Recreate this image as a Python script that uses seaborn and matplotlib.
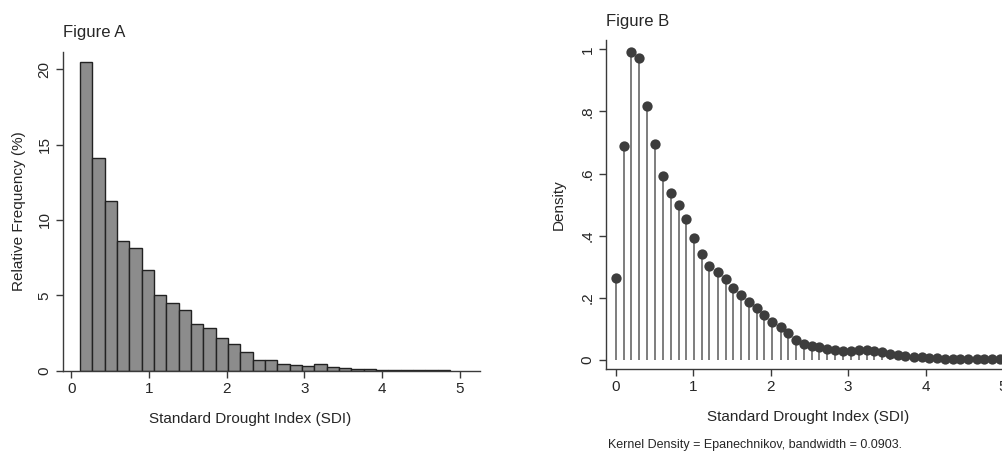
import matplotlib
matplotlib.use("Agg")
import matplotlib.pyplot as plt
import seaborn as sns
import pandas as pd
import numpy as np

# Figure A: relative frequency (%) per SDI bin
bin_start = 0.112
bin_width = 0.1587
freq_pct = [20.49, 14.08, 11.27, 8.60, 8.15, 6.67, 5.02, 4.51, 4.00, 3.09,
            2.85, 2.19, 1.77, 1.26, 0.71, 0.73, 0.42, 0.40, 0.33, 0.42,
            0.27, 0.20, 0.13, 0.09, 0.05, 0.03, 0.02, 0.02, 0.03, 0.02]

# Figure B: kernel density evaluated on a grid
sdi_grid = [0.00, 0.10, 0.20, 0.30, 0.40, 0.51, 0.61, 0.71, 0.81, 0.91,
            1.01, 1.11, 1.21, 1.32, 1.42, 1.52, 1.62, 1.72, 1.82, 1.92,
            2.02, 2.13, 2.23, 2.33, 2.43, 2.53, 2.63, 2.73, 2.83, 2.93,
            3.04, 3.14, 3.24, 3.34, 3.44, 3.54, 3.64, 3.74, 3.85, 3.95,
            4.05, 4.15, 4.25, 4.35, 4.45, 4.55, 4.66, 4.76, 4.86, 4.96]
density = [0.265, 0.689, 0.990, 0.973, 0.817, 0.696, 0.592, 0.536, 0.499, 0.453,
           0.392, 0.340, 0.304, 0.282, 0.259, 0.232, 0.209, 0.188, 0.167, 0.145,
           0.123, 0.107, 0.087, 0.065, 0.050, 0.046, 0.041, 0.034, 0.032, 0.030,
           0.030, 0.031, 0.031, 0.029, 0.025, 0.019, 0.017, 0.014, 0.011, 0.008,
           0.006, 0.005, 0.004, 0.003, 0.003, 0.002, 0.002, 0.002, 0.002, 0.002]

x_ticks = [0, 1, 2, 3, 4, 5]
a_yticks = [0, 5, 10, 15, 20]
b_yticks = [0, 0.2, 0.4, 0.6, 0.8, 1.0]
b_yticklabels = ["0", ".2", ".4", ".6", ".8", "1"]

sns.set_style("ticks")
plt.rcParams['font.family'] = ['Liberation Sans', 'DejaVu Sans']

fig = plt.figure(figsize=(10.03, 4.53), dpi=100)
ax_a = fig.add_axes([0.0625, 0.1817, 0.416, 0.704])
ax_b = fig.add_axes([0.6039, 0.1848, 0.403, 0.727])

spine_col = "#3a3a3a"

# ---- Figure A: histogram
n_bins = len(freq_pct)
edges = bin_start + bin_width * np.arange(n_bins + 1)
hist_df = pd.DataFrame({
    "sdi": (edges[:-1] + edges[1:]) / 2,
    "pct": freq_pct,
})
sns.histplot(data=hist_df, x="sdi", weights="pct", bins=list(edges), ax=ax_a,
             color="#8c8c8c", edgecolor="#222222", linewidth=1.0, alpha=1.0)
ax_a.set_xlim(-0.11, 5.26)
ax_a.set_ylim(0, 21.15)
ax_a.set_xticks(x_ticks)
ax_a.set_yticks(a_yticks)
ax_a.set_xlabel("Standard Drought Index (SDI)", fontsize=11)
ax_a.xaxis.set_label_coords(0.449, -0.13)
ax_a.set_ylabel("Relative Frequency (%)", fontsize=11, labelpad=8)
ax_a.set_title("Figure A", loc="left", fontsize=12, pad=11, x=0.0)

# ---- Figure B: kernel density as stems + dots
kde_df = pd.DataFrame({"sdi": sdi_grid, "density": density})
ax_b.vlines(kde_df["sdi"], 0, kde_df["density"], color="#5a5a5a", linewidth=1.1)
sns.scatterplot(data=kde_df, x="sdi", y="density", ax=ax_b, s=55,
                color="#3d3d3d", edgecolor="#3d3d3d", linewidth=0, zorder=3)
ax_b.set_xlim(-0.13, 5.09)
ax_b.set_ylim(-0.030, 1.03)
ax_b.set_xticks(x_ticks)
ax_b.set_yticks(b_yticks)
ax_b.set_yticklabels(b_yticklabels)
ax_b.set_xlabel("Standard Drought Index (SDI)", fontsize=11, labelpad=11)
ax_b.set_ylabel("Density", fontsize=11, labelpad=11)
ax_b.set_title("Figure B", loc="left", fontsize=12, pad=10, x=0.0)

for ax in (ax_a, ax_b):
    sns.despine(ax=ax)
    for s in ("left", "bottom"):
        ax.spines[s].set_color(spine_col)
        ax.spines[s].set_linewidth(1.0)
    ax.tick_params(axis="both", labelsize=11, length=5, width=1.0,
                   color=spine_col, pad=3)
    for lab in ax.get_yticklabels():
        lab.set_rotation(90)
        lab.set_va("center")

fig.text(0.606, 0.018, "Kernel Density = Epanechnikov, bandwidth = 0.0903.",
         fontsize=9, ha="left", va="center")

fig.savefig("out.png", dpi=100, facecolor="white")
